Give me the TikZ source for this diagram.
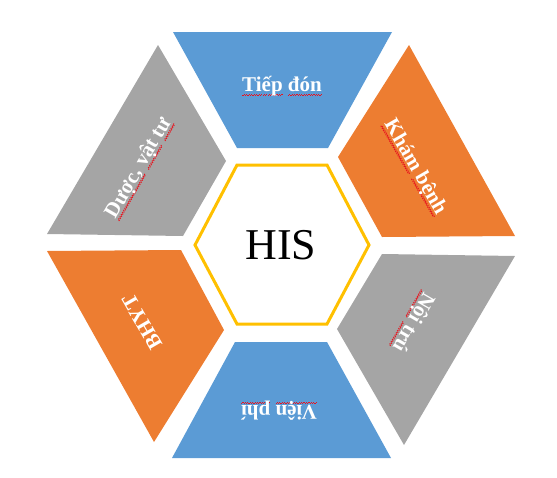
\documentclass[tikz,border=0pt]{standalone}
\usepackage{fontspec}
\setmainfont{Liberation Serif}
\definecolor{hblue}{HTML}{5B9BD5}
\definecolor{horange}{HTML}{ED7D31}
\definecolor{hgray}{HTML}{A5A5A5}
\definecolor{hgold}{HTML}{FFC000}
\definecolor{squig}{HTML}{E8141E}
\newcommand\sqw[1]{\setbox0=\hbox{#1}\leavevmode\rlap{\textcolor{squig}{\hbox to\wd0{\xleaders\hbox{\rule[-4.2pt]{1.2pt}{1pt}\rule[-3.2pt]{1.2pt}{1pt}}\hfil}}}\box0\relax}
\tikzset{
  lbl/.style={text=white, inner sep=0pt, font=\bfseries\fontsize{21}{25}\selectfont},
}
\begin{document}
\begin{tikzpicture}[x=1pt,y=-1pt]
\useasboundingbox (0,0) rectangle (557,477);
% sectors
\fill[hblue]   (173,32) -- (392,32) -- (328,148) -- (237,148) -- cycle;
\fill[horange] (409,45) -- (515,236) -- (382,237) -- (338,157) -- cycle;
\fill[hgray]   (382,254) -- (515,256) -- (404,445) -- (337,329) -- cycle;
\fill[hblue]   (235,342) -- (327,342) -- (391,458) -- (172,458) -- cycle;
\fill[horange] (47,251) -- (181,250) -- (224,330) -- (154,442) -- cycle;
\fill[hgray]   (158,45) -- (226,161) -- (183,236) -- (47,234) -- cycle;
% center hexagon
\draw[hgold, line width=3pt, line join=miter] (237,165) -- (327,165) -- (369,245) -- (327,324) -- (237,324) -- (195,245) -- cycle;
\node[inner sep=0pt, font=\fontsize{44}{50}\selectfont] (his) at (281,245) {HIS};
% labels
\node[lbl] (tiep) at (282,86) {\sqw{Tiếp} \sqw{đón}};
\node[lbl, rotate=-60] (kham) at (415,167) {\sqw{Khám} \sqw{bệnh}};
\node[lbl, rotate=-120] (noi) at (413,322) {\sqw{Nội} \sqw{trú}};
\node[lbl, rotate=180] (vien) at (279,411) {\sqw{Viện} \sqw{phí}};
\node[lbl, rotate=120] (bhyt) at (142,322) {BHYT};
\node[lbl, rotate=60] (duoc) at (139,168) {\sqw{Dược,} \sqw{vật} \sqw{tư}};
\end{tikzpicture}
\end{document}
